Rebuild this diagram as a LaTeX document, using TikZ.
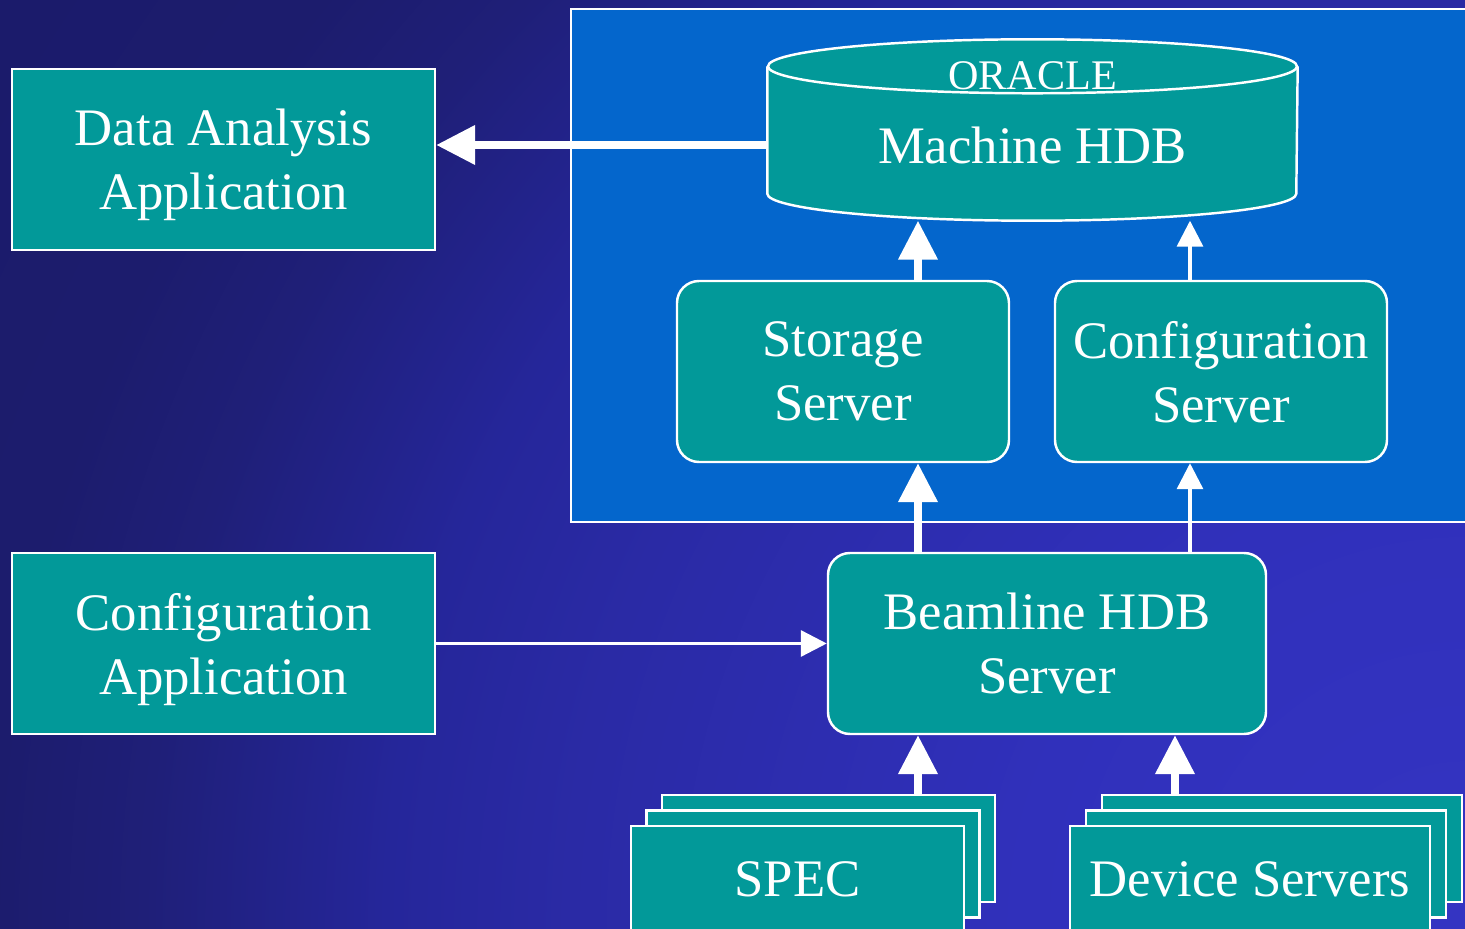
\documentclass[tikz,border=0pt]{standalone}
\usepackage{fontspec}
\setmainfont{Liberation Serif}
\usetikzlibrary{arrows.meta,calc,positioning}

\definecolor{bgA}{HTML}{3434C2}
\definecolor{bgB}{HTML}{3030BB}
\definecolor{bgC}{HTML}{2A2AA5}
\definecolor{bgD}{HTML}{25269A}
\definecolor{bgE}{HTML}{1F1F78}
\definecolor{bgF}{HTML}{1C1C6D}
\definecolor{bgG}{HTML}{1B1B6B}
\definecolor{panelblue}{HTML}{0466CC}
\definecolor{boxteal}{HTML}{029999}

% 25bp of the shading = radius of the shaded circle (20cm)
\pgfdeclareradialshading{bgglow}{\pgfpoint{0bp}{0bp}}{%
  color(0bp)=(bgA); color(5.6bp)=(bgB); color(11.2bp)=(bgC);
  color(13.5bp)=(bgD); color(16.5bp)=(bgE); color(18.4bp)=(bgF);
  color(21.7bp)=(bgG); color(50bp)=(bgG)}

\begin{document}
\begin{tikzpicture}[
    font=\fontsize{15}{18.2}\selectfont,
    appbox/.style={draw=white, line width=0.7pt, fill=boxteal, text=white,
        align=center, inner sep=0pt, minimum width=4.23cm, minimum height=1.81cm,
        text depth=0pt},
    srvbox/.style={draw=white, line width=0.7pt, fill=boxteal, text=white,
        align=center, inner sep=0pt, rounded corners=0.22cm,
        minimum width=3.32cm, minimum height=1.81cm, text depth=-1pt},
    stackbox/.style={draw=white, line width=0.7pt, fill=boxteal, text=white,
        inner sep=0pt, minimum height=1.07cm},
    bigarrow/.style={draw=white, line width=0.075cm,
        -{Triangle[length=0.39cm,width=0.38cm]}},
    thinarrow/.style={draw=white, line width=0.033cm,
        -{Triangle[length=0.26cm,width=0.26cm]}}
]
    \useasboundingbox (0,0) rectangle (14.65,9.29);

    % background and machine area
    \begin{scope}
        \clip (0,0) rectangle (14.65,9.29);
        \fill[bgG] (0,0) rectangle (14.65,9.29);
        \shade[shading=bgglow] (14.65,0) circle (20cm);
    \end{scope}
    \draw[white, line width=0.7pt, fill=panelblue] (5.71,9.20) rectangle (14.9,4.07);

    % columns of the vertical connectors
    \coordinate (colA) at (9.18,0);
    \coordinate (colB) at (11.90,0);
    \coordinate (colC) at (11.75,0);

    % machine HDB (oracle cylinder)
    \node[minimum width=5.29cm, minimum height=1.80cm, inner sep=0pt]
        (machine) at (10.325,7.99) {};
    \fill[boxteal] ($(machine.north west)+(0,-0.27)$)
        -- ($(machine.south west)+(0,0.27)$) arc (180:360:2.645 and 0.27)
        -- ($(machine.north east)+(0,-0.27)$) arc (0:180:2.645 and 0.27);
    \draw[white, line width=0.7pt] ($(machine.north west)+(0,-0.27)$)
        -- ($(machine.south west)+(0,0.27)$) arc (180:360:2.645 and 0.27)
        -- ($(machine.north east)+(0,-0.27)$);
    \draw[white, line width=0.7pt] ($(machine.north)+(0,-0.27)$) ellipse (2.645 and 0.27);
    \node[text=white, font=\fontsize{12}{14}\selectfont] (oracle) at (10.325,8.53) {ORACLE};
    \node[text=white] (mlabel) at (10.325,7.84) {Machine HDB};

    \node[srvbox] (storage) at (8.43,5.575) {Storage\\Server};
    \node[srvbox] (confsrv) at (12.21,5.575) {Configuration\\Server};
    \node[srvbox, minimum width=4.38cm] (beamline) at (10.47,2.855) {Beamline HDB\\Server};

    \node[appbox] (data) at (2.235,7.695) {Data Analysis\\Application};
    \node[appbox] (confapp) at (2.235,2.855) {Configuration\\Application};

    % stacked clients
    \coordinate (specpos) at (7.975,0.495);
    \node[stackbox, minimum width=3.33cm] (spec3) at ($(specpos)+(0.31,0.31)$) {};
    \node[stackbox, minimum width=3.33cm] (spec2) at ($(specpos)+(0.155,0.155)$) {};
    \node[stackbox, minimum width=3.33cm] (spec) at (specpos) {SPEC};

    \coordinate (devpos) at (12.50,0.495);
    \node[stackbox, minimum width=3.60cm] (dev3) at ($(devpos)+(0.32,0.31)$) {};
    \node[stackbox, minimum width=3.60cm] (dev2) at ($(devpos)+(0.16,0.155)$) {};
    \node[stackbox, minimum width=3.60cm] (dev) at (devpos) {Device Servers};

    % connectors
    \draw[bigarrow] (machine.west |- mlabel) -- (data.east |- mlabel);
    \draw[bigarrow] (storage.north -| colA) -- (machine.south -| colA);
    \draw[thinarrow] (confsrv.north -| colB) -- (machine.south -| colB);
    \draw[bigarrow] (beamline.north -| colA) -- (storage.south -| colA);
    \draw[thinarrow] (beamline.north -| colB) -- (confsrv.south -| colB);
    \draw[thinarrow] (confapp.east) -- (beamline.west);
    \draw[bigarrow] (spec3.north -| colA) -- (beamline.south -| colA);
    \draw[bigarrow] (dev3.north -| colC) -- (beamline.south -| colC);
\end{tikzpicture}
\end{document}
